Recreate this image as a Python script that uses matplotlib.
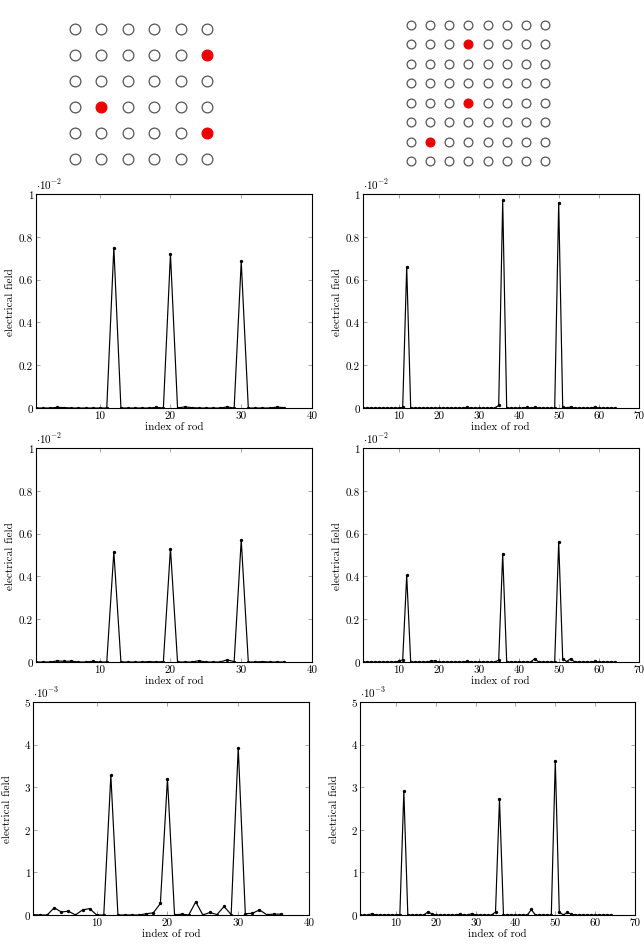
import matplotlib
matplotlib.use("Agg")
import matplotlib.pyplot as plt
import numpy as np

plt.rcParams['font.family'] = 'serif'
plt.rcParams['font.serif'] = ['cmr10']
plt.rcParams['mathtext.fontset'] = 'cm'
plt.rcParams['axes.formatter.use_mathtext'] = True
plt.rcParams['font.size'] = 8

# --- data ---
# rod lattices (row-major index from the top-left), excited rods in red
grid_small_n = 6
grid_small_hot = [12, 20, 30]
grid_large_n = 8
grid_large_hot = [12, 36, 50]

# field per rod, 36 rods (values x 1e-2)
field_6_a = [0, 0, 0, 0.003, 0.002, 0, 0, 0, 0, 0, 0, 0.75,
             0, 0, 0, 0, 0, 0.003, 0, 0.72, 0, 0.005, 0.002, 0,
             0, 0, 0, 0.005, 0, 0.685, 0, 0, 0, 0, 0.004, 0.002]
field_6_b = [0, 0, 0, 0.005, 0.003, 0.004, 0, 0, 0.003, 0, 0, 0.515,
             0, 0, 0, 0, 0.002, 0, 0.002, 0.53, 0, 0, 0, 0.006,
             0, 0, 0, 0.01, 0.002, 0.57, 0, 0, 0.002, 0, 0, 0]
# values x 1e-3
field_6_c = [0.01, 0, 0, 0.17, 0.07, 0.09, 0, 0.12, 0.15, 0, 0, 3.28,
             0, 0, 0, 0, 0.03, 0.05, 0.27, 3.2, 0, 0.02, 0, 0.31,
             0, 0.06, 0.01, 0.2, 0.01, 3.93, 0.03, 0.04, 0.12, 0.01, 0.02, 0.02]

# field per rod, 64 rods (values x 1e-2)
field_8_a = [0, 0, 0, 0, 0, 0, 0, 0, 0, 0, 0.003, 0.66,
             0, 0, 0, 0, 0, 0, 0, 0, 0, 0, 0, 0,
             0, 0, 0.003, 0, 0, 0, 0, 0, 0, 0, 0.012, 0.97,
             0, 0, 0, 0, 0, 0.003, 0, 0.003, 0, 0, 0, 0,
             0, 0.96, 0.006, 0, 0.005, 0, 0, 0, 0, 0, 0.004, 0,
             0, 0, 0, 0]
field_8_b = [0, 0, 0, 0, 0, 0, 0, 0, 0, 0.004, 0.01, 0.405,
             0, 0, 0, 0, 0, 0.004, 0.005, 0, 0, 0, 0, 0,
             0, 0, 0.003, 0, 0, 0, 0, 0, 0, 0, 0.008, 0.505,
             0, 0, 0, 0, 0, 0, 0, 0.016, 0, 0, 0, 0,
             0, 0.562, 0.015, 0.002, 0.016, 0, 0, 0, 0, 0, 0.003, 0,
             0, 0, 0, 0]
# values x 1e-3
field_8_c = [0, 0, 0, 0.03, 0, 0, 0, 0, 0, 0, 0.01, 2.9,
             0, 0, 0, 0, 0, 0.07, 0.03, 0, 0, 0, 0, 0,
             0, 0.02, 0, 0, 0.03, 0, 0, 0, 0, 0, 0.07, 2.72,
             0, 0, 0, 0, 0, 0, 0, 0.13, 0, 0, 0, 0,
             0, 3.62, 0.07, 0, 0.06, 0.02, 0, 0, 0, 0, 0, 0,
             0, 0, 0, 0]

W, H = 644, 953
fig = plt.figure(figsize=(W / 100, H / 100), dpi=100)


def px_axes(left, top, width, height):
    return fig.add_axes([left / W, 1 - (top + height) / H, width / W, height / H])


def draw_grid(ax, n, hot, size):
    idx = np.arange(1, n * n + 1)
    col = (idx - 1) % n + 1
    row = (idx - 1) // n + 1
    is_hot = np.isin(idx, hot)
    ax.scatter(col[~is_hot], row[~is_hot], s=size, facecolor='white',
               edgecolor='#555555', linewidth=0.9)
    ax.scatter(col[is_hot], row[is_hot], s=size, facecolor='#ee0000',
               edgecolor='#ee0000', linewidth=0.9)
    ax.set_xlim(0.5, n + 0.5)
    ax.set_ylim(n + 0.5, 0.5)
    ax.axis('off')


draw_grid(px_axes(61.8, 17, 158.4, 156), grid_small_n, grid_small_hot, 60)
draw_grid(px_axes(401.4, 16.3, 153.1, 155.4), grid_large_n, grid_large_hot, 40)


def field_plot(ax, values, xmax, xticks, ymax, yticks, ylabels, exp):
    x = np.arange(1, len(values) + 1)
    ax.plot(x, values, color='black', lw=0.85, marker='o', ms=1.4)
    ax.set_xlim(1, xmax)
    ax.set_ylim(0, ymax)
    ax.set_xticks(xticks)
    ax.set_xticklabels([str(t) for t in xticks])
    ax.set_yticks(yticks)
    ax.set_yticklabels(ylabels)
    ax.tick_params(direction='in', top=True, right=True, length=3,
                   width=0.5, color='0.5', labelsize=8, pad=2)
    for s in ax.spines.values():
        s.set_linewidth(0.8)
    ax.set_xlabel('index of rod')
    ax.set_ylabel('electrical field')
    ax.xaxis.set_label_coords(0.5, -0.062)
    ax.yaxis.set_label_coords(-0.075, 0.5)
    ax.text(0, 1.012, r'$\cdot 10^{%d}$' % exp, transform=ax.transAxes,
            ha='left', va='bottom', fontsize=8)


yt2 = [0, 0.2, 0.4, 0.6, 0.8, 1]
yl2 = ['0', '0.2', '0.4', '0.6', '0.8', '1']
yt3 = [0, 1, 2, 3, 4, 5]
yl3 = ['0', '1', '2', '3', '4', '5']
xt6 = [10, 20, 30, 40]
xt8 = [10, 20, 30, 40, 50, 60, 70]

field_plot(px_axes(36, 195, 276, 214), field_6_a, 40, xt6, 1, yt2, yl2, -2)
field_plot(px_axes(362.7, 195, 276, 214), field_8_a, 70, xt8, 1, yt2, yl2, -2)
field_plot(px_axes(36, 449, 276, 214), field_6_b, 40, xt6, 1, yt2, yl2, -2)
field_plot(px_axes(362.7, 449, 276, 214), field_8_b, 70, xt8, 1, yt2, yl2, -2)
field_plot(px_axes(33, 703, 276, 213), field_6_c, 40, xt6, 5, yt3, yl3, -3)
field_plot(px_axes(360, 703, 275, 213), field_8_c, 70, xt8, 5, yt3, yl3, -3)

fig.savefig('out.png', dpi=100)
